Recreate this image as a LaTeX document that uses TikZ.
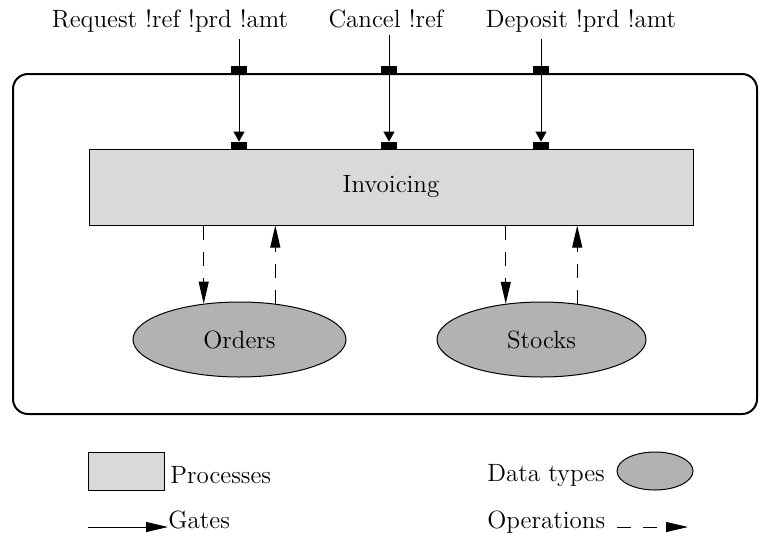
\documentclass[tikz,border=0pt]{standalone}
\usetikzlibrary{arrows.meta,shapes.geometric}
\newcommand{\fs}{\fontsize{12.5}{15}\selectfont}

\begin{document}
\begin{tikzpicture}[x=0.5pt,y=-0.5pt,font=\fs,
    proc/.style={draw,fill=gray!30,line width=0.5pt,inner sep=0},
    dtype/.style={ellipse,draw,fill=gray!60,line width=0.5pt,inner sep=0},
    port/.style={fill=black,minimum width=8pt,minimum height=4pt,inner sep=0},
    gatearr/.style={line width=0.5pt,-{Triangle[length=5pt,width=5.5pt]}},
    legarr/.style={line width=0.5pt,-{Triangle[length=11pt,width=5pt]}},
    oparr/.style={legarr,dash pattern=on 7pt off 6pt}]
     \useasboundingbox (0,0) rectangle (760,536);
     % system border
     \draw[line width=1pt,rounded corners=7.5pt] (13,74) rectangle (757,414);
     \node[proc,minimum width=302pt,minimum height=38pt] (inv) at (391,187) {Invoicing};
     \node[dtype,minimum width=106.5pt,minimum height=37.5pt] (ord) at (239.5,339.5) {Orders};
     \node[dtype,minimum width=104.5pt,minimum height=37.5pt] (stk) at (541.5,339.5) {Stocks};
     % gates
     \foreach \n/\x/\lx/\txt in {r/239/170/Request !ref !prd !amt,
                                 c/389/386/Cancel !ref,
                                 d/541/581/Deposit !prd !amt} {
      \node[anchor=base] (l\n) at (\lx,27) {\txt};
      \node[port] (top\n) at (\x,70) {};
      \node[port] (in\n) at (\x,146) {};
      \draw[gatearr] (l\n.south -| in\n) -- (in\n);
     }
     % operations
     \foreach \d in {ord,stk} {
      \draw[oparr] (inv.south -| \d.135) -- (\d.135);
      \draw[oparr] (\d.45) -- (inv.south -| \d.45);
     }
     % legend
     \node[proc,minimum width=38pt,minimum height=19pt] (lgproc) at (126,471) {};
     \node[anchor=base west,inner sep=3pt] (lgproctxt) at (164,483) {Processes};
     \node[anchor=base west,inner sep=3pt] (lgdtxt) at (481,481) {Data types};
     \node[dtype,minimum width=38pt,minimum height=19pt] (lgd) at (655,471) {};
     \coordinate (gs) at (88,527);
     \node[anchor=base west,inner sep=0pt] (lggate) at (168,528) {Gates};
     \draw[legarr] (gs) -- (gs -| lggate.west);
     \node[anchor=base west,inner sep=3pt] (lgop) at (481,528) {Operations};
     \coordinate (os) at (617,527);
     \coordinate (oe) at (688,527);
     \draw[oparr] (os) -- (oe);
    \end{tikzpicture}
\end{document}
